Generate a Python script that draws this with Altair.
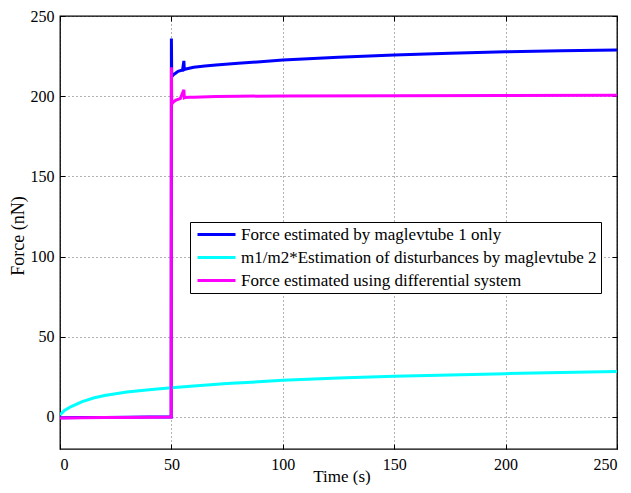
import altair as alt
import pandas as pd

names = [
    "Force estimated by maglevtube 1 only",
    "m1/m2*Estimation of disturbances by maglevtube 2",
    "Force estimated using differential system",
]
colors = ["#0000ff", "#00ffff", "#ff00ff"]

t_blue = [0, 10, 20, 30, 40, 49.9, 50.0, 50.15, 50.4, 51, 52, 53, 55, 55.6, 55.8, 56.1, 58, 60, 65, 70, 80, 90, 100, 125, 150, 175, 200, 225, 250]
f_blue = [-0.5, -0.4, -0.3, -0.2, -0.1, 0, 236, 213, 212.5, 213.5, 214.5, 215.5, 216.3, 222, 216.6, 216.8, 217.4, 218, 218.8, 219.5, 220.5, 221.5, 222.5, 224.3, 225.7, 226.8, 227.7, 228.3, 228.8]

t_cyan = [0, 2, 5, 10, 15, 20, 30, 40, 50, 60, 75, 100, 125, 150, 175, 200, 225, 250]
f_cyan = [1.2, 4, 6.5, 9.5, 11.8, 13.3, 15.5, 17, 18.2, 19.3, 20.8, 22.8, 24.2, 25.4, 26.2, 27, 27.7, 28.4]

t_mag = [0, 10, 20, 30, 40, 49.9, 50.0, 50.15, 50.4, 51, 52, 54, 55.6, 55.8, 56.1, 58, 60, 70, 80, 100, 150, 200, 250]
f_mag = [-0.6, -0.5, -0.4, -0.3, -0.2, -0.1, 218, 195, 195.5, 196.5, 197.5, 198.5, 204, 199, 199.2, 199.3, 199.4, 199.8, 200, 200.1, 200.3, 200.5, 200.6]

x_ticks = [0, 50, 100, 150, 200, 250]
y_ticks = [0, 50, 100, 150, 200, 250]

rows = []
for name, ts, fs in zip(names, [t_blue, t_cyan, t_mag], [f_blue, f_cyan, f_mag]):
    for t, f in zip(ts, fs):
        rows.append({"series": name, "t": t, "f": f})
df = pd.DataFrame(rows)

W, H = 557, 433
FONT = "Liberation Serif, Times New Roman, Times, serif"

x_scale = alt.Scale(domain=[0, 250], nice=False)
y_scale = alt.Scale(domain=[-20, 250], nice=False, zero=False)

base = alt.Chart(df)

lines = base.mark_line(strokeWidth=3, clip=True).encode(
    x=alt.X("t:Q", scale=x_scale, axis=alt.Axis(
        title="Time (s)", values=x_ticks, grid=True, tickSize=0, domain=False,
        labelPadding=7, labelFontSize=16, titleFontSize=17,
        titleX=W / 2 + 3, titleY=19, titleAlign="center", titleBaseline="top",
        labelFont=FONT, titleFont=FONT, titleFontWeight="normal", labelColor="black", titleColor="black",
        gridColor="black", gridOpacity=0.6, gridDash=[1, 3], gridWidth=1)),
    y=alt.Y("f:Q", scale=y_scale, axis=alt.Axis(
        title="Force (nN)", values=y_ticks, grid=True, tickSize=0, domain=False,
        labelPadding=6, labelFontSize=16, titleFontSize=18,
        titleX=-42, titleY=H / 2 + 3, titleAlign="center", titleBaseline="middle",
        labelFont=FONT, titleFont=FONT, titleFontWeight="normal", labelColor="black", titleColor="black",
        gridColor="black", gridOpacity=0.6, gridDash=[1, 3], gridWidth=1)),
    color=alt.Color("series:N", scale=alt.Scale(domain=names, range=colors), legend=alt.Legend(
        title=None, orient="none", legendX=130, legendY=206,
        strokeColor="black", fillColor="white", padding=4,
        labelFont=FONT, labelFontSize=17, labelColor="black", labelLimit=500,
        symbolType="M-1,0H6.6", symbolStrokeWidth=3, symbolSize=100,
        rowPadding=5, labelOffset=30)),
)

def tick_layer(xorient, yorient):
    return base.mark_line(opacity=0).encode(
        x=alt.X("t:Q", scale=x_scale, axis=alt.Axis(
            orient=xorient, offset=-H, values=x_ticks, labels=False, title="", grid=False,
            domain=False, tickSize=5, tickColor="black")),
        y=alt.Y("f:Q", scale=y_scale, axis=alt.Axis(
            orient=yorient, offset=-W, values=y_ticks, labels=False, title="", grid=False,
            domain=False, tickSize=5, tickColor="black")),
    )

chart = alt.layer(lines, tick_layer("top", "right"), tick_layer("bottom", "left")).resolve_axis(
    x="independent", y="independent"
).properties(
    width=W, height=H,
    autosize=alt.AutoSizeParams(type="none"),
    padding={"left": 52, "top": 8, "right": 6, "bottom": 36},
).configure_view(stroke="black", strokeWidth=1.3)

chart.save("out.html", embed_options={"renderer": "svg", "actions": False})
